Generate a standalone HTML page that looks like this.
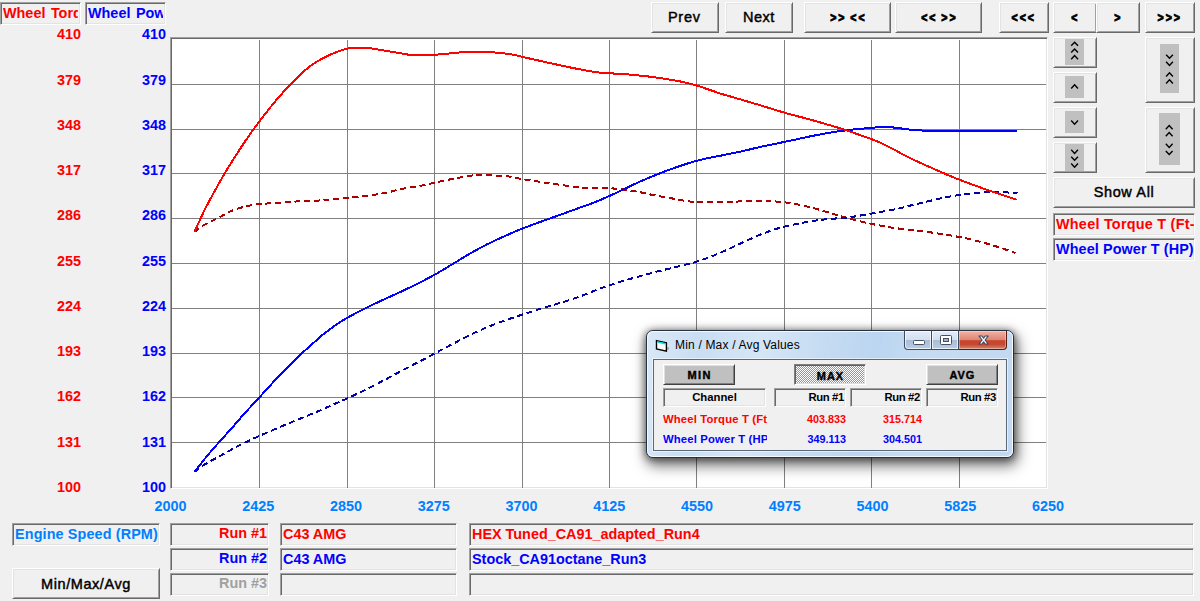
<!DOCTYPE html>
<html>
<head>
<meta charset="utf-8">
<title>Dyno Graph</title>
<style>
html,body{margin:0;padding:0;}
body{width:1200px;height:601px;background:#f0f0f0;overflow:hidden;position:relative;
  font-family:"Liberation Sans",sans-serif;font-size:14.4px;color:#000;}
div{box-sizing:border-box;}
.abs{position:absolute;}
.sunk{position:absolute;border:1px solid;border-color:#a0a0a0 #fff #fff #a0a0a0;
  box-shadow:inset 1px 1px 0 #696969, inset -1px -1px 0 #e3e3e3;overflow:hidden;white-space:nowrap;
  font-weight:bold;}
.btn{position:absolute;border:1px solid;border-color:#fff #696969 #696969 #fff;
  box-shadow:inset 1px 1px 0 #e3e3e3, inset -1px -1px 0 #a0a0a0;background:#f0f0f0;
  text-align:center;white-space:nowrap;overflow:hidden;}
.red{color:#ff0000;}
.blue{color:#0000ff;}
.lb{color:#0080ff;}
.gray{color:#a0a0a0;}
.yl{position:absolute;text-align:right;font-weight:bold;height:16px;line-height:16px;font-size:14.4px;}
.xl{position:absolute;width:60px;text-align:center;font-weight:bold;color:#0080ff;height:16px;line-height:16px;font-size:14.4px;}
.plot{position:absolute;left:0;top:0;}
#chart{position:absolute;left:170px;top:37px;width:878px;height:452px;background:#fff;
  border:1px solid;border-color:#a0a0a0 #fff #fff #a0a0a0;
  box-shadow:inset 1px 1px 0 #696969, inset -1px -1px 0 #e3e3e3;}
.t{position:absolute;white-space:nowrap;}
.rb{font-size:14.5px;position:relative;top:1px;-webkit-text-stroke:0.45px #000;}
.cv{font-size:13.5px;position:relative;top:1px;display:inline-block;transform:scaleX(0.78);letter-spacing:2.6px;margin-right:-2.6px;word-spacing:-1.5px;-webkit-text-stroke:0.9px #000;}
.ico{position:absolute;background:#c0c0c0;}
/* dialog */
#dlg{position:absolute;left:646px;top:330px;width:368px;height:128px;border-radius:7px;
  background:#bcd6f1;border:1px solid #27303c;
  box-shadow:2px 6px 14px 2px rgba(0,0,0,0.52), 0 1px 7px 1px rgba(0,0,0,0.45);}
#dlgglass{position:absolute;left:647px;top:331px;width:366px;height:126px;border-radius:6px;
  border:1px solid rgba(255,255,255,0.8);
  background:linear-gradient(100deg,rgba(255,255,255,0.45) 0%,rgba(255,255,255,0.2) 14%,rgba(255,255,255,0.38) 30%,rgba(255,255,255,0.12) 48%,rgba(255,255,255,0) 60%,rgba(255,255,255,0.14) 72%,rgba(255,255,255,0.08) 100%);}
#client{position:absolute;left:653px;top:359px;width:354px;height:92px;background:#f0f0f0;
  border:1px solid #5a6878;box-shadow:0 0 0 1px rgba(255,255,255,0.55);}
#capbtns{position:absolute;left:904px;top:330px;width:103px;height:20px;}
.cb{position:absolute;top:0;height:20px;border:1px solid #3f4b5b;border-top:1px solid #27303c;
  background:linear-gradient(180deg,#e4edf8 0%,#d3e0f0 48%,#a8bdd8 52%,#b9cde6 100%);
  box-shadow:inset 0 0 0 1px rgba(255,255,255,0.7);margin-left:0;}
.cb+.cb{border-left:none;}
.cb.cl{background:linear-gradient(180deg,#f0b3a8 0%,#df8572 48%,#c8432c 54%,#c44a33 75%,#d9866a 100%);
  box-shadow:inset 0 0 0 1px rgba(255,255,255,0.35);border-color:#5a1c12;border-top-color:#27303c;}
.d11{font-size:11.3px;font-weight:bold;}
.d12{font-size:11px;font-weight:bold;position:relative;top:0.5px;}
.gbtn{background:#c0c0c0;border-color:#fff #404040 #404040 #fff;box-shadow:inset 1px 1px 0 #dfdfdf, inset -1px -1px 0 #808080;}
.gbtn.pressed{border-color:#808080 #fff #fff #808080;box-shadow:inset 1px 1px 0 #606060, inset -1px -1px 0 #dfdfdf;
  background:conic-gradient(#00ff00 25%,#ffffff 0 50%,#00ff00 0 75%,#ffffff 0) 0 0/2px 2px;}
</style>
</head>
<body>

<!-- top-left channel labels -->
<div class="sunk red" style="left:0;top:2px;width:81px;height:23px;line-height:20px;"><div style="position:absolute;left:2px;top:0;width:75px;height:21px;overflow:hidden;"><span id="t_wt" style="word-spacing:1.5px">Wheel Torque T (Ft-Lb)</span></div></div>
<div class="sunk blue" style="left:85px;top:2px;width:81px;height:23px;line-height:20px;"><div style="position:absolute;left:2px;top:0;width:75px;height:21px;overflow:hidden;"><span id="t_wp" style="word-spacing:1.5px">Wheel Power T (HP)</span></div></div>

<div id="chart"></div>
<svg class="plot" width="1200" height="601" viewBox="0 0 1200 601" shape-rendering="crispEdges">
<rect x="259" y="40" width="1" height="448" fill="#808080"/>
<rect x="347" y="40" width="1" height="448" fill="#808080"/>
<rect x="434" y="40" width="1" height="448" fill="#808080"/>
<rect x="522" y="40" width="1" height="448" fill="#808080"/>
<rect x="609" y="40" width="1" height="448" fill="#808080"/>
<rect x="696" y="40" width="1" height="448" fill="#808080"/>
<rect x="784" y="40" width="1" height="448" fill="#808080"/>
<rect x="871" y="40" width="1" height="448" fill="#808080"/>
<rect x="959" y="40" width="1" height="448" fill="#808080"/>
<rect x="172" y="84" width="874" height="1" fill="#808080"/>
<rect x="172" y="129" width="874" height="1" fill="#808080"/>
<rect x="172" y="173" width="874" height="1" fill="#808080"/>
<rect x="172" y="218" width="874" height="1" fill="#808080"/>
<rect x="172" y="263" width="874" height="1" fill="#808080"/>
<rect x="172" y="308" width="874" height="1" fill="#808080"/>
<rect x="172" y="353" width="874" height="1" fill="#808080"/>
<rect x="172" y="397" width="874" height="1" fill="#808080"/>
<rect x="172" y="442" width="874" height="1" fill="#808080"/>
<path d="M194.5 232.0C195.8 231.0 198.2 228.4 202.5 225.9C206.8 223.4 215.4 219.4 220.0 217.0C224.6 214.6 226.2 213.3 230.0 211.6C233.8 210.0 237.9 208.5 242.5 207.2C247.1 206.0 250.4 205.2 257.5 204.3C264.6 203.5 277.5 202.8 285.0 202.3C292.5 201.8 296.2 201.4 302.5 201.1C308.8 200.7 315.4 200.8 322.5 200.3C329.6 199.8 337.1 198.9 345.0 198.1C352.9 197.3 362.9 196.3 370.0 195.3C377.1 194.4 382.5 193.5 387.5 192.5C392.5 191.5 394.6 190.4 400.0 189.3C405.4 188.2 414.2 187.0 420.0 185.9C425.8 184.8 429.6 183.8 435.0 182.6C440.4 181.4 446.7 180.0 452.5 178.9C458.3 177.8 465.4 176.5 470.0 175.9C474.6 175.2 473.8 174.8 480.0 174.9C486.2 175.0 500.4 175.7 507.5 176.4C514.6 177.1 516.2 178.1 522.5 179.1C528.8 180.2 537.1 181.4 545.0 182.6C552.9 183.8 563.8 185.4 570.0 186.2C576.2 187.1 575.8 187.2 582.5 187.6C589.2 187.9 602.9 188.0 610.0 188.3C617.1 188.7 620.0 189.0 625.0 189.7C630.0 190.3 635.0 191.3 640.0 192.2C645.0 193.2 649.6 194.4 655.0 195.4C660.4 196.5 667.5 197.6 672.5 198.5C677.5 199.4 680.8 200.3 685.0 200.9C689.2 201.4 689.2 201.7 697.5 201.8C705.8 201.9 724.6 201.8 735.0 201.6C745.4 201.4 752.5 200.6 760.0 200.7C767.5 200.7 774.2 201.3 780.0 201.9C785.8 202.4 789.2 202.9 795.0 204.0C800.8 205.1 808.3 206.8 815.0 208.6C821.7 210.3 828.8 212.6 835.0 214.4C841.2 216.2 846.2 217.7 852.5 219.3C858.8 221.0 866.2 222.8 872.5 224.1C878.8 225.4 883.8 226.3 890.0 227.3C896.2 228.3 903.3 229.1 910.0 229.9C916.7 230.7 923.3 231.3 930.0 232.3C936.7 233.2 943.8 234.4 950.0 235.4C956.2 236.5 961.7 237.3 967.5 238.6C973.3 239.9 979.6 241.6 985.0 243.1C990.4 244.6 994.9 246.0 1000.0 247.6C1005.1 249.3 1012.9 252.1 1015.5 253.0" fill="none" stroke="#aa0000" stroke-width="2" stroke-dasharray="6 3.7"/>
<path d="M194.5 472.0C195.8 471.0 198.2 468.4 202.5 465.7C206.8 463.1 214.6 459.0 220.0 456.0C225.4 453.0 230.8 449.9 235.0 447.7C239.2 445.4 240.8 444.6 245.0 442.6C249.2 440.6 254.2 438.2 260.0 435.6C265.8 433.0 273.3 429.9 280.0 427.0C286.7 424.2 293.3 421.5 300.0 418.8C306.7 416.0 314.2 412.9 320.0 410.4C325.8 407.9 330.4 405.8 335.0 403.8C339.6 401.8 342.5 400.6 347.5 398.3C352.5 396.0 358.8 393.0 365.0 390.0C371.2 386.9 378.8 383.0 385.0 379.8C391.2 376.5 396.7 373.3 402.5 370.3C408.3 367.2 414.6 364.1 420.0 361.3C425.4 358.5 430.8 355.5 435.0 353.3C439.2 351.1 440.4 350.4 445.0 348.0C449.6 345.6 456.7 341.8 462.5 338.8C468.3 335.9 473.8 333.1 480.0 330.3C486.2 327.6 492.9 324.9 500.0 322.2C507.1 319.6 515.4 316.9 522.5 314.5C529.6 312.2 536.2 310.1 542.5 308.1C548.8 306.2 553.8 304.9 560.0 303.0C566.2 301.0 573.8 298.8 580.0 296.5C586.2 294.3 592.5 291.4 597.5 289.5C602.5 287.6 604.6 286.8 610.0 285.1C615.4 283.3 622.5 281.1 630.0 278.9C637.5 276.8 646.7 274.3 655.0 272.1C663.3 270.0 673.3 267.7 680.0 266.0C686.7 264.4 689.6 263.8 695.0 262.1C700.4 260.5 706.7 258.3 712.5 256.0C718.3 253.7 724.2 251.0 730.0 248.4C735.8 245.7 741.7 242.8 747.5 240.2C753.3 237.6 759.6 234.8 765.0 232.8C770.4 230.7 774.2 229.4 780.0 227.8C785.8 226.2 793.3 224.5 800.0 223.2C806.7 221.9 812.5 220.9 820.0 219.9C827.5 219.0 838.3 218.4 845.0 217.7C851.7 217.0 854.2 216.6 860.0 215.6C865.8 214.7 873.3 213.3 880.0 212.1C886.7 210.9 894.5 209.5 900.0 208.3C905.5 207.1 908.4 206.0 913.3 204.8C918.2 203.6 923.7 202.3 929.3 201.0C934.9 199.7 941.8 198.1 946.7 197.2C951.6 196.2 954.3 195.7 958.7 195.1C963.1 194.4 968.6 193.6 973.3 193.1C978.0 192.6 982.2 192.3 986.7 192.2C991.2 192.0 994.9 192.2 1000.0 192.3C1005.1 192.4 1014.6 192.7 1017.5 192.8" fill="none" stroke="#0000aa" stroke-width="2" stroke-dasharray="6 3.7"/>
<path d="M194.5 472.0C196.7 469.2 203.2 460.6 207.5 455.5C211.8 450.3 215.8 445.9 220.0 441.2C224.2 436.6 228.3 432.0 232.5 427.3C236.7 422.6 240.4 418.0 245.0 412.9C249.6 407.8 255.0 402.2 260.0 396.7C265.0 391.3 270.0 385.6 275.0 380.3C280.0 374.9 285.8 368.9 290.0 364.7C294.2 360.5 296.2 358.6 300.0 355.1C303.8 351.6 308.3 347.4 312.5 343.8C316.7 340.1 320.8 336.2 325.0 332.9C329.2 329.6 333.8 326.4 337.5 323.9C341.2 321.4 343.3 320.1 347.5 317.7C351.7 315.3 356.7 312.6 362.5 309.7C368.3 306.7 375.4 303.4 382.5 300.1C389.6 296.8 398.8 292.8 405.0 289.8C411.2 286.9 414.6 285.2 420.0 282.5C425.4 279.7 431.7 276.5 437.5 273.1C443.3 269.8 449.6 265.8 455.0 262.6C460.4 259.3 464.6 256.7 470.0 253.6C475.4 250.5 480.0 247.8 487.5 244.1C495.0 240.5 507.1 235.0 515.0 231.6C522.9 228.2 527.5 226.6 535.0 223.8C542.5 221.1 552.5 217.6 560.0 214.9C567.5 212.2 574.2 209.7 580.0 207.6C585.8 205.5 590.0 204.2 595.0 202.2C600.0 200.2 605.0 198.0 610.0 195.7C615.0 193.5 620.0 191.0 625.0 188.7C630.0 186.3 634.2 184.1 640.0 181.6C645.8 179.0 653.3 175.9 660.0 173.3C666.7 170.7 673.3 168.2 680.0 166.0C686.7 163.7 693.3 161.6 700.0 159.9C706.7 158.2 713.3 157.1 720.0 155.8C726.7 154.4 733.3 153.2 740.0 151.7C746.7 150.3 752.5 148.7 760.0 147.0C767.5 145.4 776.2 143.7 785.0 141.8C793.8 140.0 805.0 137.4 812.5 135.9C820.0 134.4 823.8 133.7 830.0 132.6C836.2 131.6 845.0 130.5 850.0 129.9C855.0 129.2 857.0 129.2 860.0 128.9C863.0 128.6 865.1 128.3 868.0 128.1C870.9 127.8 873.3 127.5 877.3 127.4C881.3 127.3 888.2 127.3 892.0 127.4C895.8 127.6 897.1 128.0 900.0 128.3C902.9 128.7 905.3 129.2 909.3 129.5C913.3 129.9 916.7 130.3 924.0 130.6C931.3 130.9 942.0 131.2 953.3 131.4C964.6 131.5 984.0 131.4 992.0 131.4C1000.0 131.3 997.9 131.2 1001.0 131.2C1004.1 131.1 1008.0 131.3 1010.7 131.2C1013.4 131.1 1016.0 130.7 1017.0 130.6" fill="none" stroke="#0000ff" stroke-width="2"/>
<path d="M194.5 232.0C195.4 229.9 197.8 224.3 200.0 219.7C202.2 215.1 203.3 212.1 207.5 204.3C211.7 196.5 218.8 183.3 225.0 172.9C231.2 162.4 239.2 150.2 245.0 141.5C250.8 132.8 254.2 128.3 260.0 120.6C265.8 113.0 273.3 103.5 280.0 95.8C286.7 88.2 295.0 79.8 300.0 74.9C305.0 70.0 306.7 68.9 310.0 66.3C313.3 63.8 316.2 61.9 320.0 59.8C323.8 57.7 328.3 55.5 332.5 53.7C336.7 52.0 341.7 50.2 345.0 49.2C348.3 48.2 348.8 48.0 352.5 47.8C356.2 47.6 362.5 47.6 367.5 48.0C372.5 48.4 377.5 49.5 382.5 50.3C387.5 51.1 392.8 51.9 397.5 52.7C402.2 53.5 406.4 54.5 411.0 55.0C415.6 55.4 419.8 55.4 425.0 55.3C430.2 55.2 437.1 54.6 442.5 54.1C447.9 53.7 452.9 53.0 457.5 52.6C462.1 52.3 464.2 52.0 470.0 52.0C475.8 51.9 485.8 51.9 492.5 52.3C499.2 52.7 505.0 53.4 510.0 54.2C515.0 54.9 516.7 55.6 522.5 56.9C528.3 58.2 537.1 60.2 545.0 62.0C552.9 63.7 561.7 65.7 570.0 67.4C578.3 69.1 588.3 71.0 595.0 72.0C601.7 73.0 604.6 72.9 610.0 73.3C615.4 73.7 620.0 73.7 627.5 74.4C635.0 75.1 646.2 76.1 655.0 77.3C663.8 78.5 673.1 80.1 680.0 81.4C686.9 82.8 689.8 83.5 696.5 85.5C703.2 87.5 712.8 91.1 720.0 93.4C727.2 95.7 733.3 97.3 740.0 99.3C746.7 101.3 752.5 102.9 760.0 105.2C767.5 107.4 776.2 110.3 785.0 112.9C793.8 115.4 802.5 117.4 812.5 120.2C822.5 123.1 837.1 127.3 845.0 129.8C852.9 132.3 855.5 133.5 860.0 135.1C864.5 136.6 868.0 137.7 872.0 139.3C876.0 140.8 880.5 142.8 884.0 144.4C887.5 146.1 890.2 147.5 893.3 149.1C896.4 150.8 899.4 152.7 902.7 154.4C906.0 156.1 909.3 157.7 913.3 159.6C917.3 161.5 922.2 163.7 926.7 165.7C931.2 167.7 935.6 169.7 940.0 171.6C944.4 173.6 950.0 175.9 953.3 177.3C956.6 178.7 956.7 178.7 960.0 180.0C963.3 181.2 968.8 183.3 973.3 184.9C977.8 186.6 982.2 188.1 986.7 189.7C991.2 191.2 995.0 192.6 1000.0 194.2C1005.0 195.9 1013.8 198.7 1016.5 199.6" fill="none" stroke="#ff0000" stroke-width="2"/>
</svg>
<div class="yl red" style="left:0;width:81px;top:26px">410</div>
<div class="yl blue" style="left:85px;width:81px;top:26px">410</div>
<div class="yl red" style="left:0;width:81px;top:72px">379</div>
<div class="yl blue" style="left:85px;width:81px;top:72px">379</div>
<div class="yl red" style="left:0;width:81px;top:117px">348</div>
<div class="yl blue" style="left:85px;width:81px;top:117px">348</div>
<div class="yl red" style="left:0;width:81px;top:162px">317</div>
<div class="yl blue" style="left:85px;width:81px;top:162px">317</div>
<div class="yl red" style="left:0;width:81px;top:207px">286</div>
<div class="yl blue" style="left:85px;width:81px;top:207px">286</div>
<div class="yl red" style="left:0;width:81px;top:253px">255</div>
<div class="yl blue" style="left:85px;width:81px;top:253px">255</div>
<div class="yl red" style="left:0;width:81px;top:298px">224</div>
<div class="yl blue" style="left:85px;width:81px;top:298px">224</div>
<div class="yl red" style="left:0;width:81px;top:343px">193</div>
<div class="yl blue" style="left:85px;width:81px;top:343px">193</div>
<div class="yl red" style="left:0;width:81px;top:388px">162</div>
<div class="yl blue" style="left:85px;width:81px;top:388px">162</div>
<div class="yl red" style="left:0;width:81px;top:434px">131</div>
<div class="yl blue" style="left:85px;width:81px;top:434px">131</div>
<div class="yl red" style="left:0;width:81px;top:479px">100</div>
<div class="yl blue" style="left:85px;width:81px;top:479px">100</div>
<div class="xl" style="left:140.5px;top:498px">2000</div>
<div class="xl" style="left:228.2px;top:498px">2425</div>
<div class="xl" style="left:316.0px;top:498px">2850</div>
<div class="xl" style="left:403.8px;top:498px">3275</div>
<div class="xl" style="left:491.5px;top:498px">3700</div>
<div class="xl" style="left:579.2px;top:498px">4125</div>
<div class="xl" style="left:667.0px;top:498px">4550</div>
<div class="xl" style="left:754.8px;top:498px">4975</div>
<div class="xl" style="left:842.5px;top:498px">5400</div>
<div class="xl" style="left:930.2px;top:498px">5825</div>
<div class="xl" style="left:1018.0px;top:498px">6250</div>

<!-- top buttons -->
<div class="btn" style="left:651px;top:2px;width:68px;height:31px;line-height:27px;"><span id="t_prev" class="rb" style="letter-spacing:0.8px;left:-0.6px">Prev</span></div>
<div class="btn" style="left:725px;top:2px;width:68px;height:31px;line-height:27px;"><span id="t_next" class="rb" style="letter-spacing:0.5px">Next</span></div>
<div class="btn" style="left:804px;top:2px;width:87px;height:31px;line-height:27px;font-weight:bold;"><span id="t_b3" class="cv">&gt;&gt; &lt;&lt;</span></div>
<div class="btn" style="left:895px;top:2px;width:87px;height:31px;line-height:27px;font-weight:bold;"><span id="t_b4" class="cv">&lt;&lt; &gt;&gt;</span></div>
<div class="btn" style="left:999px;top:2px;width:50px;height:31px;line-height:27px;font-weight:bold;"><span id="t_b5" class="cv" style="left:-2px">&lt;&lt;&lt;</span></div>
<div class="btn" style="left:1053px;top:2px;width:44px;height:31px;line-height:27px;font-weight:bold;"><span id="t_b6" class="cv" style="left:-1px">&lt;</span></div>
<div class="btn" style="left:1096px;top:2px;width:44px;height:31px;line-height:27px;font-weight:bold;"><span id="t_b7" class="cv" style="left:-1.5px">&gt;</span></div>
<div class="btn" style="left:1145px;top:2px;width:50px;height:31px;line-height:27px;font-weight:bold;"><span id="t_b8" class="cv" style="left:-2px">&gt;&gt;&gt;</span></div>

<!-- right panel scroll buttons -->
<div class="btn" style="left:1053px;top:37px;width:44px;height:31px;"></div>
<div class="btn" style="left:1053px;top:72px;width:44px;height:31px;"></div>
<div class="btn" style="left:1053px;top:107px;width:44px;height:31px;"></div>
<div class="btn" style="left:1053px;top:142px;width:44px;height:31px;"></div>
<div class="btn" style="left:1145px;top:37px;width:50px;height:66px;"></div>
<div class="btn" style="left:1145px;top:107px;width:50px;height:66px;"></div>
<div class="ico" style="left:1065px;top:39px;width:19px;height:26px;"></div>
<div class="ico" style="left:1065px;top:76px;width:19px;height:22px;"></div>
<div class="ico" style="left:1065px;top:111px;width:19px;height:22px;"></div>
<div class="ico" style="left:1065px;top:144px;width:19px;height:27px;"></div>
<div class="ico" style="left:1160px;top:44px;width:19px;height:49px;"></div>
<div class="ico" style="left:1159px;top:113px;width:21px;height:52px;"></div>
<svg class="plot" width="1200" height="601" viewBox="0 0 1200 601" fill="none" stroke="#000" stroke-width="1.4">
<!-- ^^^ -->
<polyline points="1071.2,45.8 1074.6,42.2 1078.0,45.8"/>
<polyline points="1071.2,52.5 1074.6,48.9 1078.0,52.5"/>
<polyline points="1071.2,59.2 1074.6,55.6 1078.0,59.2"/>
<polyline points="1071.2,88.4 1074.6,84.8 1078.0,88.4"/>
<polyline points="1071.2,120.6 1074.6,124.2 1078.0,120.6"/>
<polyline points="1071.2,149.8 1074.6,153.4 1078.0,149.8"/>
<polyline points="1071.2,156.7 1074.6,160.3 1078.0,156.7"/>
<polyline points="1071.2,163.6 1074.6,167.2 1078.0,163.6"/>
<polyline points="1166.1,54.7 1169.5,58.3 1172.9,54.7"/>
<polyline points="1166.1,61.8 1169.5,65.4 1172.9,61.8"/>
<polyline points="1166.1,76.4 1169.5,72.8 1172.9,76.4"/>
<polyline points="1166.1,83.4 1169.5,79.8 1172.9,83.4"/>
<polyline points="1165.8,129.2 1169.2,125.6 1172.6,129.2"/>
<polyline points="1165.8,136.2 1169.2,132.6 1172.6,136.2"/>
<polyline points="1165.8,143.8 1169.2,147.4 1172.6,143.8"/>
<polyline points="1165.8,151.0 1169.2,154.6 1172.6,151.0"/>
</svg>

<div class="btn" style="left:1053px;top:177px;width:142px;height:31px;line-height:27px;"><span id="t_show" class="rb" style="letter-spacing:0.64px">Show All</span></div>
<div class="sunk red" style="left:1053px;top:213px;width:142px;height:23px;line-height:20px;padding-left:2px;"><span id="t_wt2" style="letter-spacing:0.25px">Wheel Torque T (Ft-Lb)</span></div>
<div class="sunk blue" style="left:1053px;top:238px;width:142px;height:23px;line-height:20px;padding-left:2px;"><span id="t_wp2" style="letter-spacing:0.1px">Wheel Power T (HP)</span></div>

<!-- bottom -->
<div class="sunk lb" style="left:12px;top:523px;width:148px;height:23px;line-height:20px;padding-left:2px;"><span id="t_es" style="letter-spacing:0.12px">Engine Speed (RPM)</span></div>
<div class="btn" style="left:12px;top:568px;width:148px;height:31px;line-height:27px;"><span id="t_mma" class="rb" style="letter-spacing:0.57px;top:2px">Min/Max/Avg</span></div>

<div class="sunk red" style="left:170px;top:523px;width:99px;height:23px;line-height:18px;text-align:right;padding-right:1px;"><span id="t_r1">Run #1</span></div>
<div class="sunk blue" style="left:170px;top:548px;width:99px;height:23px;line-height:18px;text-align:right;padding-right:1px;"><span id="t_r2">Run #2</span></div>
<div class="sunk gray" style="left:170px;top:573px;width:99px;height:23px;line-height:18px;text-align:right;padding-right:1px;"><span id="t_r3">Run #3</span></div>

<div class="sunk red" style="left:280px;top:523px;width:177px;height:23px;line-height:20px;padding-left:2px;"><span id="t_c1">C43 AMG</span></div>
<div class="sunk blue" style="left:280px;top:548px;width:177px;height:23px;line-height:20px;padding-left:2px;"><span id="t_c2">C43 AMG</span></div>
<div class="sunk" style="left:280px;top:573px;width:177px;height:23px;"></div>

<div class="sunk red" style="left:469px;top:523px;width:725px;height:23px;line-height:20px;padding-left:2px;"><span id="t_n1">HEX Tuned_CA91_adapted_Run4</span></div>
<div class="sunk blue" style="left:469px;top:548px;width:725px;height:23px;line-height:20px;padding-left:2px;"><span id="t_n2">Stock_CA91octane_Run3</span></div>
<div class="sunk" style="left:469px;top:573px;width:725px;height:23px;"></div>

<!-- dialog -->
<div id="dlg"></div>
<div id="dlgglass"></div>
<div id="client"></div>
<!-- title icon -->
<svg class="plot" width="1200" height="601" viewBox="0 0 1200 601">
  <polygon points="656.5,340.6 666.4,342.8 666.4,351.2 656.5,348.9" fill="#fff" stroke="#000" stroke-width="1.4" stroke-linejoin="miter"/>
  <polyline points="657.6,342 665.4,343.8" fill="none" stroke="#00dde6" stroke-width="1.5"/>
  <polygon points="667.3,347 669.3,348 667.3,350.5" fill="#8a8a8a"/>
</svg>
<div class="t" id="t_title" style="left:675px;top:337px;font-size:12px;line-height:16px;letter-spacing:0.18px;">Min / Max / Avg Values</div>
<!-- caption buttons -->
<div id="capbtns">
  <div class="cb" style="left:0;width:28px;border-bottom-left-radius:4px;"></div>
  <div class="cb" style="left:28px;width:27px;"></div>
  <div class="cb cl" style="left:55px;width:48px;border-bottom-right-radius:4px;"></div>
</div>
<svg class="plot" width="1200" height="601" viewBox="0 0 1200 601">
  <rect x="913.5" y="340.5" width="11" height="4" rx="1" fill="#fff" stroke="#46505e" stroke-width="1"/>
  <rect x="940.5" y="335.5" width="11" height="9" rx="1" fill="#fff" stroke="#46505e" stroke-width="1"/>
  <rect x="943.5" y="338.5" width="5" height="3" fill="#9db3cf" stroke="#46505e" stroke-width="1"/>
  <polygon points="979.00,336.00 982.00,336.00 983.60,338.06 985.20,336.00 988.20,336.00 985.10,340.00 988.20,344.00 985.20,344.00 983.60,341.94 982.00,344.00 979.00,344.00 982.10,340.00" fill="#fff" stroke="#3d4a60" stroke-width="1.2" stroke-linejoin="round"/>
</svg>

<div class="btn gbtn" style="left:663px;top:364px;width:72px;height:21px;line-height:17px;"><span id="t_min" class="d12" style="letter-spacing:1.4px;margin-right:-1.4px;-webkit-text-stroke:0.4px #000">MIN</span></div>
<div class="btn gbtn pressed" style="left:794px;top:364px;width:72px;height:21px;line-height:18px;"><span id="t_max" class="d12" style="letter-spacing:0.9px;margin-right:-0.9px;-webkit-text-stroke:0.4px #000">MAX</span></div>
<div class="btn gbtn" style="left:926px;top:364px;width:72px;height:21px;line-height:17px;"><span id="t_avg" class="d12" style="letter-spacing:0.9px;margin-right:-0.9px;-webkit-text-stroke:0.4px #000">AVG</span></div>

<div class="sunk d11" style="left:663px;top:388px;width:103px;height:19px;line-height:17px;text-align:center;"><span id="t_ch">Channel</span></div>
<div class="sunk d11" style="left:774px;top:388px;width:72px;height:19px;line-height:17px;text-align:right;padding-right:1px;"><span id="t_dr1" style="letter-spacing:-0.35px">Run #1</span></div>
<div class="sunk d11" style="left:850px;top:388px;width:72px;height:19px;line-height:17px;text-align:right;padding-right:1px;"><span id="t_dr2" style="letter-spacing:-0.35px">Run #2</span></div>
<div class="sunk d11" style="left:926px;top:388px;width:72px;height:19px;line-height:17px;text-align:right;padding-right:1px;"><span id="t_dr3" style="letter-spacing:-0.35px">Run #3</span></div>

<div class="t d11 red" style="left:663px;top:411px;width:104px;overflow:hidden;line-height:16px;"><span id="t_dwt" style="letter-spacing:0.15px">Wheel Torque T (Ft-Lb)</span></div>
<div class="t d11 blue" style="left:663px;top:431px;width:104px;overflow:hidden;line-height:16px;"><span id="t_dwp" style="letter-spacing:0.15px">Wheel Power T (HP)</span></div>
<div class="t d11 red" style="left:774px;top:411px;width:72px;text-align:right;line-height:16px;"><span id="t_v1" style="font-size:10.8px">403.833</span></div>
<div class="t d11 red" style="left:850px;top:411px;width:72px;text-align:right;line-height:16px;"><span id="t_v2" style="font-size:10.8px">315.714</span></div>
<div class="t d11 blue" style="left:774px;top:431px;width:72px;text-align:right;line-height:16px;"><span id="t_v3" style="font-size:10.8px">349.113</span></div>
<div class="t d11 blue" style="left:850px;top:431px;width:72px;text-align:right;line-height:16px;"><span id="t_v4" style="font-size:10.8px">304.501</span></div>

</body>
</html>
